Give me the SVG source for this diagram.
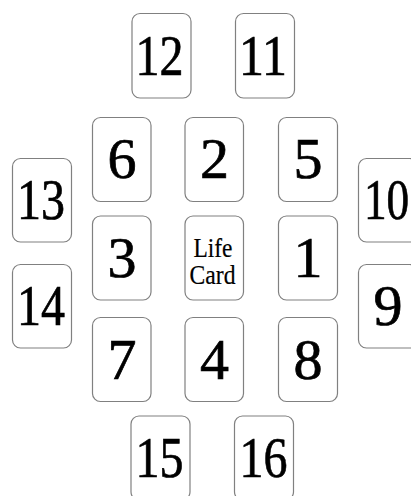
<svg xmlns="http://www.w3.org/2000/svg" width="411" height="496" viewBox="0 0 411 496">
<style>
.card{fill:#fff;stroke:#808080;stroke-width:1.2}
.num{font-family:"Liberation Serif",serif;font-size:58px;fill:#000;stroke:#000;stroke-width:0.7;text-anchor:middle}
.lbl{font-family:"Liberation Serif",serif;font-size:27px;fill:#000;stroke:#000;stroke-width:0.2;text-anchor:middle}
</style>
<rect width="411" height="496" fill="#fff"/>
<g id="connectors"/>
<g id="card12"><rect class="card" x="132" y="13.5" width="59" height="84.5" rx="8"/><text class="num" x="159.5" y="75" textLength="48" lengthAdjust="spacingAndGlyphs">12</text></g>
<g id="card11"><rect class="card" x="235.5" y="13.5" width="59" height="84.5" rx="8"/><text class="num" x="263" y="75" textLength="48" lengthAdjust="spacingAndGlyphs">11</text></g>
<g id="card6"><rect class="card" x="92.5" y="117.5" width="58.5" height="84" rx="8"/><text class="num" x="122" y="178">6</text></g>
<g id="card2"><rect class="card" x="185" y="117.5" width="58.5" height="84" rx="8"/><text class="num" x="214.5" y="178">2</text></g>
<g id="card5"><rect class="card" x="278.5" y="117.5" width="59" height="84" rx="8"/><text class="num" x="308" y="178">5</text></g>
<g id="card13"><rect class="card" x="12.5" y="158.5" width="59" height="83.5" rx="8"/><text class="num" x="41" y="218.5" textLength="48" lengthAdjust="spacingAndGlyphs">13</text></g>
<g id="card10"><rect class="card" x="358.5" y="158.5" width="59" height="83.5" rx="8"/><text class="num" transform="translate(386.5,218.5) scale(0.78,1)" x="0" y="0">10</text></g>
<g id="card3"><rect class="card" x="92.5" y="216" width="58.5" height="84" rx="8"/><text class="num" x="122" y="277">3</text></g>
<g id="lifecard"><rect class="card" x="185" y="216" width="58.5" height="84" rx="8"/><text class="lbl" x="213" y="256.5" textLength="39" lengthAdjust="spacingAndGlyphs">Life</text><text class="lbl" x="212.5" y="284" textLength="46" lengthAdjust="spacingAndGlyphs">Card</text></g>
<g id="card1"><rect class="card" x="278.5" y="216" width="59" height="84" rx="8"/><text class="num" x="308" y="277">1</text></g>
<g id="card14"><rect class="card" x="12.5" y="264.5" width="59" height="83.5" rx="8"/><text class="num" x="41" y="324.5" textLength="48" lengthAdjust="spacingAndGlyphs">14</text></g>
<g id="card9"><rect class="card" x="358.5" y="264.5" width="59" height="83.5" rx="8"/><text class="num" x="388" y="324.5">9</text></g>
<g id="card7"><rect class="card" x="92.5" y="317.5" width="58.5" height="84" rx="8"/><text class="num" x="122" y="378.5">7</text></g>
<g id="card4"><rect class="card" x="185" y="317.5" width="58.5" height="84" rx="8"/><text class="num" x="214.5" y="378.5">4</text></g>
<g id="card8"><rect class="card" x="278.5" y="317.5" width="59" height="84" rx="8"/><text class="num" x="308" y="378.5">8</text></g>
<g id="card15"><rect class="card" x="131" y="416" width="59" height="84" rx="8"/><text class="num" x="159.5" y="477" textLength="48" lengthAdjust="spacingAndGlyphs">15</text></g>
<g id="card16"><rect class="card" x="234.5" y="416" width="59" height="84" rx="8"/><text class="num" x="263.5" y="477" textLength="48" lengthAdjust="spacingAndGlyphs">16</text></g>
</svg>
